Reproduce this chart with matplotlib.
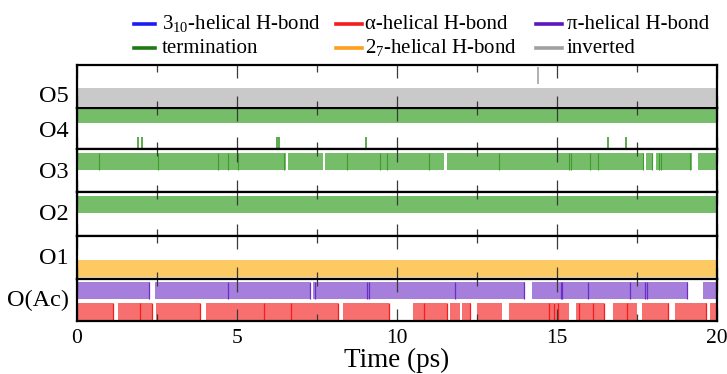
import matplotlib
matplotlib.use("Agg")
import matplotlib.pyplot as plt
from matplotlib.lines import Line2D

plt.rcParams['font.family'] = ['Liberation Serif', 'DejaVu Serif']
plt.rcParams['mathtext.fontset'] = 'custom'
plt.rcParams['mathtext.rm'] = 'Liberation Serif'
plt.rcParams['mathtext.it'] = 'Liberation Serif:italic'

# ---------------- data (time in ps) ----------------
panel_labels = ["O5", "O4", "O3", "O2", "O1", "O(Ac)"]

o5_inverted_segments = [(0.0, 20.0)]
o5_inverted_marks = [14.43]

o4_term_segments = [(0.0, 20.0)]
o4_term_marks = [1.93, 2.03, 6.25, 6.31, 9.03, 16.59, 17.16]

o3_term_segments = [(0.0, 6.53), (6.60, 7.70), (7.77, 11.49), (11.57, 17.72),
                    (17.79, 18.01), (18.10, 19.22), (19.42, 20.0)]
o3_term_edges = [0.71, 2.53, 4.40, 4.72, 5.05, 6.49, 8.45, 9.49, 9.70, 11.0,
                 13.21, 15.38, 15.46, 16.03, 16.28, 17.70, 17.98, 18.20, 18.26, 19.18]

o2_term_segments = [(0.0, 20.0)]

o1_h27_segments = [(0.0, 20.0)]

oac_pi_segments = [(0.0, 2.28), (2.46, 7.29), (7.38, 14.0), (14.24, 19.09), (19.57, 20.0)]
oac_pi_edges = [2.27, 4.72, 7.28, 7.46, 9.06, 9.12, 11.81, 13.99, 15.12, 15.16,
                15.97, 17.28, 17.76, 17.82, 19.08, 19.99]

oac_alpha_segments = [(0.04, 1.14), (1.28, 2.36), (2.49, 3.85), (4.04, 8.16), (8.31, 9.75),
                      (10.51, 11.57), (11.66, 11.97), (12.05, 12.32), (12.52, 13.29),
                      (13.51, 14.93), (14.96, 15.37), (15.61, 16.49), (16.75, 17.52),
                      (17.67, 18.50), (18.70, 19.70), (19.80, 20.0)]
oac_alpha_edges = [1.14, 1.97, 2.36, 3.85, 5.84, 6.71, 8.16, 9.75, 10.84, 11.57,
                   12.30, 14.75, 14.93, 15.03, 15.71, 16.13, 16.49, 17.21, 18.49, 19.68]

major_ticks = [0, 5, 10, 15, 20]
minor_ticks = [2.5, 7.5, 12.5, 17.5]

# ---------------- styles ----------------
FILL = {'inv': '#c9c9c9', 'term': '#75bd68', 'h27': '#fdc963',
        'pi': '#a67fdc', 'alpha': '#f86f6f'}
EDGE = {'inv': '#a3a3a3', 'term': '#3f9b30', 'h27': '#f7a531',
        'pi': '#6b2ec9', 'alpha': '#f01e1e'}

W, H = 727, 374
fig = plt.figure(figsize=(W / 100, H / 100), dpi=100)

x_left, x_right = 76.7, 716.7
edges_px = [64.7, 107.7, 149.3, 192.3, 235.7, 279.0, 320.7]

axes = []
for i in range(6):
    top, bot = edges_px[i], edges_px[i + 1]
    ax = fig.add_axes([x_left / W, 1 - bot / H, (x_right - x_left) / W, (bot - top) / H])
    ax.set_xlim(0, 20)
    ax.set_ylim(0, 1)
    ax.set_yticks([])
    ax.set_xticks(major_ticks)
    ax.set_xticks(minor_ticks, minor=True)
    ax.tick_params(axis='x', which='major', direction='in', top=True, bottom=True,
                   length=9, width=0.9, color='#3a3a3a', labelsize=15.5, pad=6)
    ax.tick_params(axis='x', which='minor', direction='in', top=True, bottom=True,
                   length=5, width=0.9, color='#3a3a3a')
    if i < 5:
        ax.tick_params(axis='x', labelbottom=False)
    for s in ax.spines.values():
        s.set_linewidth(1.6)
        s.set_color('black')
    axes.append(ax)


def bars(ax, segs, y0, y1, kind):
    ax.broken_barh([(a, b - a) for a, b in segs], (y0, y1 - y0),
                   facecolors=FILL[kind], edgecolor='none', zorder=1)


def marks(ax, xs, y0, y1, kind, lw=1.0):
    ax.vlines(xs, y0, y1, colors=EDGE[kind], lw=lw, zorder=1.5)


# O5
bars(axes[0], o5_inverted_segments, 0.04, 0.45, 'inv')
marks(axes[0], o5_inverted_marks, 0.56, 0.95, 'inv', lw=1.2)
# O4
bars(axes[1], o4_term_segments, 0.64, 0.97, 'term')
marks(axes[1], o4_term_marks, 0.0, 0.29, 'term', lw=1.2)
# O3
bars(axes[2], o3_term_segments, 0.52, 0.92, 'term')
marks(axes[2], o3_term_edges, 0.52, 0.92, 'term', lw=0.8)
# O2
bars(axes[3], o2_term_segments, 0.53, 0.92, 'term')
# O1
bars(axes[4], o1_h27_segments, 0.04, 0.44, 'h27')
# O(Ac)
bars(axes[5], oac_pi_segments, 0.52, 0.94, 'pi')
marks(axes[5], oac_pi_edges, 0.52, 0.94, 'pi', lw=0.9)
bars(axes[5], oac_alpha_segments, 0.0, 0.43, 'alpha')
marks(axes[5], oac_alpha_edges, 0.0, 0.43, 'alpha', lw=0.9)

# row labels
label_y_px = [96, 131, 172, 215, 258, 300]
for lab, ypx in zip(panel_labels, label_y_px):
    fig.text(69 / W, 1 - ypx / H, lab, ha='right', va='center', fontsize=17.5)

axes[-1].set_xlabel("Time (ps)", fontsize=19.5, labelpad=0)

# legend
legend_entries = [
    ("$3_{10}$-helical H-bond", '#1c1cf5', 0, 0),
    ("\u03b1-helical H-bond", '#f51c1c', 1, 0),
    ("\u03c0-helical H-bond", '#5a17bf', 2, 0),
    ("termination", '#1e7a14', 0, 1),
    ("$2_{7}$-helical H-bond", '#ff9f1c', 1, 1),
    ("inverted", '#a0a0a0', 2, 1),
]
handle_x = [(134, 155), (336, 362), (536, 562)]
text_x = [162, 365, 567]
baseline_y = [29, 53]
for text, color, col, row in legend_entries:
    yb = 1 - baseline_y[row] / H
    yh = 1 - (baseline_y[row] - 5) / H
    x0, x1 = handle_x[col]
    fig.add_artist(Line2D([x0 / W, x1 / W], [yh, yh], color=color, lw=2.6,
                          transform=fig.transFigure))
    fig.text(text_x[col] / W, yb, text, ha='left', va='baseline', fontsize=15)

fig.savefig("out.png", dpi=100)
